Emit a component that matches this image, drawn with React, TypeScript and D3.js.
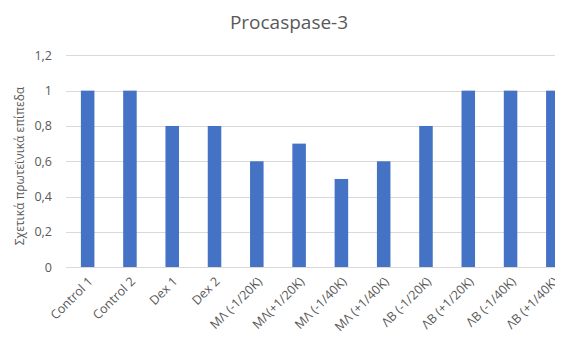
import { useEffect, useRef } from 'react'
import * as d3 from 'd3'

const categories = [
  'Control 1', 'Control 2', 'Dex 1', 'Dex 2',
  'ΜΛ (-1/20K)', 'ΜΛ(+1/20K)', 'ΜΛ (-1/40K)', 'ΜΛ (+1/40K)',
  'ΛΒ (-1/20K)', 'ΛΒ (+1/20K)', 'ΛΒ (-1/40K)', 'ΛΒ (+1/40K)',
]
const values = [1, 1, 0.8, 0.8, 0.6, 0.7, 0.5, 0.6, 0.8, 1, 1, 1]
const yTicks = [0, 0.2, 0.4, 0.6, 0.8, 1, 1.2]

const W = 563
const H = 340
const FONT = '"Open Sans", sans-serif'
const TEXT = '#595959'
const GRID = '#d9d9d9'
const BAR = '#4472c4'

export default function App() {
  const ref = useRef<SVGSVGElement>(null)

  useEffect(() => {
    const svg = d3.select(ref.current)
    svg.selectAll('*').remove()

    const x = d3.scaleBand().domain(categories).range([66.5, 574]).paddingInner(0.68).paddingOuter(0.34)
    const y = d3.scaleLinear().domain([0, 1.2]).range([267.3, 55.3])

    // title
    svg.append('text')
      .attr('x', 289).attr('y', 29)
      .attr('text-anchor', 'middle')
      .attr('font-family', FONT).attr('font-size', 19)
      .attr('fill', TEXT)
      .text('Procaspase-3')

    // gridlines
    svg.append('g').selectAll('line')
      .data(yTicks.filter(t => t > 0))
      .join('line')
      .attr('x1', 66).attr('x2', W)
      .attr('y1', d => Math.round(y(d)) + 0.5).attr('y2', d => Math.round(y(d)) + 0.5)
      .attr('stroke', GRID).attr('stroke-width', 1)

    // y tick labels
    svg.append('g').selectAll('text')
      .data(yTicks)
      .join('text')
      .attr('x', 52).attr('y', d => y(d))
      .attr('dy', '0.35em')
      .attr('text-anchor', 'end')
      .attr('font-family', FONT).attr('font-size', 12.5)
      .attr('fill', TEXT)
      .text(d => d3.format('.1~f')(d).replace('.', ','))

    // bars
    svg.append('g').selectAll('rect')
      .data(values)
      .join('rect')
      .attr('x', (_, i) => x(categories[i])!)
      .attr('width', x.bandwidth())
      .attr('y', d => y(d))
      .attr('height', d => y(0) - y(d))
      .attr('fill', BAR)

    // x axis line
    svg.append('line')
      .attr('x1', 66).attr('x2', W)
      .attr('y1', Math.round(y(0)) + 0.5).attr('y2', Math.round(y(0)) + 0.5)
      .attr('stroke', GRID).attr('stroke-width', 1)

    // x labels
    svg.append('g').selectAll('text')
      .data(categories)
      .join('text')
      .attr('transform', d => `translate(${x(d)! + x.bandwidth() / 2 + 6},${y(0) + 15}) rotate(-45)`)
      .attr('text-anchor', 'end')
      .attr('font-family', FONT).attr('font-size', 12.5)
      .attr('fill', TEXT)
      .text(d => d)

    // y axis title
    svg.append('text')
      .attr('transform', `translate(24,166) rotate(-90)`)
      .attr('text-anchor', 'middle')
      .attr('font-family', FONT).attr('font-size', 12)
      .attr('fill', TEXT)
      .text('Σχετικά πρωτεϊνικά επίπεδα')
  }, [])

  return (
    <div style={{ margin: -8 }}>
      <svg ref={ref} width={W} height={H} style={{ display: 'block', background: '#fff' }} />
    </div>
  )
}
